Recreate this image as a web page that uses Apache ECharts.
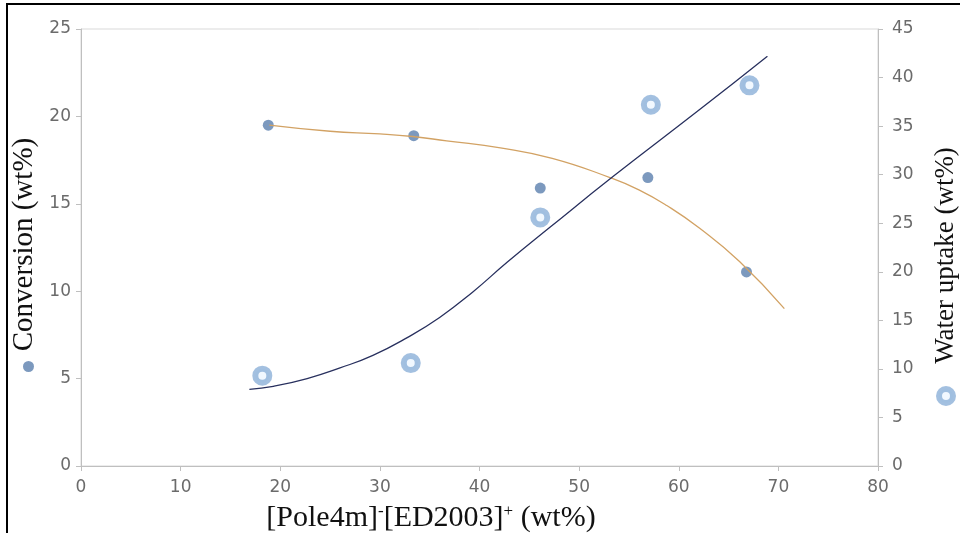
<!DOCTYPE html>
<html lang="en">

<head>
    <meta charset="UTF-8">
    <title>Conversion and water uptake</title>
    <script src="https://cdn.jsdelivr.net/npm/echarts@6/dist/echarts.min.js"></script>
    <style>
        html,
        body {
            margin: 0;
            background: #fff;
            overflow: hidden;
        }

        #mChart {
            position: absolute;
            left: 0;
            top: 0;
            width: 960px;
            height: 533px;
        }

        #frame {
            position: absolute;
            left: 6px;
            top: 3px;
            width: 952px;
            height: 528px;
            border-top: 2px solid #000;
            border-left: 2px solid #000;
            pointer-events: none;
        }
    </style>
</head>

<body>
    <div id="mChart"></div>
    <div id="frame"></div>

    <script type="text/javascript">
        // measured points
        const convX = [18.8, 33.4, 46.1, 56.9, 66.8]
        const convY = [19.5, 18.9, 15.9, 16.5, 11.1]
        const waterX = [18.2, 33.1, 46.1, 57.2, 67.1]
        const waterY = [9.3, 10.6, 25.6, 37.2, 39.2]

        // trend lines
        const convFitX = [18.9, 25.0, 30.0, 33.3, 36.7, 42.1, 47.3, 53.1, 56.0, 58.8, 62.1, 66.1, 70.6]
        const convFitY = [19.5, 19.15, 19.0, 18.85, 18.6, 18.2, 17.6, 16.5, 15.8, 14.9, 13.6, 11.7, 9.0]
        const waterFitX = [16.9, 19.3, 22.7, 26.0, 29.3, 32.7, 36.0, 39.3, 42.8, 47.1, 53.4, 62.1, 68.9]
        const waterFitY = [7.9, 8.2, 9.0, 10.1, 11.4, 13.2, 15.3, 17.9, 21.0, 24.6, 29.8, 36.7, 42.2]

        // tick labels
        const xTicks = [0, 10, 20, 30, 40, 50, 60, 70, 80]
        const convTicks = [0, 5, 10, 15, 20, 25]
        const waterTicks = [0, 5, 10, 15, 20, 25, 30, 35, 40, 45]

        const zip = (xs, ys) => xs.map((x, i) => [x, ys[i]])
        const tickRange = t => ({ min: t[0], max: t[t.length - 1], interval: t[1] - t[0] })

        const axisGray = '#bfbfbf'
        const ringBlue = '#8cb0d8'
        const labelStyle = { fontFamily: 'DejaVu Sans', fontSize: 17, color: '#6b6b6b' }
        const serif = 'Liberation Serif'

        var mChart = echarts.init(document.getElementById('mChart'))

        mChart.setOption({
            animation: false,
            grid: {
                left: 81, right: 82, top: 29, bottom: 67,
                outerBoundsMode: 'none',
                show: true, borderColor: '#d9d9d9', borderWidth: 1
            },
            legend: [{
                data: ['Conversion (wt%)'],
                left: 18, top: 356,
                itemWidth: 11, itemHeight: 11,
                formatter: () => '',
                selectedMode: false
            }, {
                data: ['Water uptake (wt%)'],
                left: 931, top: 381,
                itemWidth: 14, itemHeight: 14,
                itemStyle: { color: '#eef6ff', borderColor: ringBlue, borderWidth: 6 },
                formatter: () => '',
                selectedMode: false
            }],
            xAxis: {
                type: 'value',
                ...tickRange(xTicks),
                name: '[Pole4m]{sup|-}[ED2003]{sup|+} (wt%)',
                nameLocation: 'middle',
                nameGap: 37,
                nameTextStyle: {
                    fontFamily: serif, fontSize: 30, color: '#111',
                    padding: [0, 97, 0, 0],
                    rich: {
                        sup: { fontFamily: serif, fontSize: 17, color: '#111', verticalAlign: 'top' }
                    }
                },
                splitLine: { show: false },
                axisLine: { lineStyle: { color: axisGray } },
                axisTick: { length: 5, lineStyle: { color: axisGray } },
                axisLabel: { ...labelStyle, margin: 13 }
            },
            yAxis: [{
                type: 'value',
                ...tickRange(convTicks),
                position: 'left',
                name: 'Conversion (wt%)',
                nameLocation: 'middle',
                nameRotate: 90,
                nameGap: 33,
                nameTextStyle: { fontFamily: serif, fontSize: 29, color: '#111', padding: [0, 0, 0, 6] },
                splitLine: { show: false },
                axisLine: { show: true, lineStyle: { color: axisGray } },
                axisTick: { show: true, length: 5, lineStyle: { color: axisGray } },
                axisLabel: { ...labelStyle, margin: 10 }
            }, {
                type: 'value',
                ...tickRange(waterTicks),
                position: 'right',
                name: 'Water uptake (wt%)',
                nameLocation: 'middle',
                nameRotate: 90,
                nameGap: 54,
                nameTextStyle: { fontFamily: serif, fontSize: 27, color: '#111', padding: [0, 16, 0, 0] },
                splitLine: { show: false },
                axisLine: { show: true, lineStyle: { color: axisGray } },
                axisTick: { show: true, length: 5, lineStyle: { color: axisGray } },
                axisLabel: { ...labelStyle, margin: 14 }
            }],
            series: [{
                name: 'conv fit',
                type: 'line',
                yAxisIndex: 0,
                data: zip(convFitX, convFitY),
                smooth: true,
                showSymbol: false,
                lineStyle: { color: '#d2a264', width: 1.3 }
            }, {
                name: 'water fit',
                type: 'line',
                yAxisIndex: 1,
                data: zip(waterFitX, waterFitY),
                smooth: true,
                showSymbol: false,
                lineStyle: { color: '#28305e', width: 1.3 }
            }, {
                name: 'Conversion (wt%)',
                type: 'scatter',
                yAxisIndex: 0,
                data: zip(convX, convY),
                symbol: 'circle',
                symbolSize: 11,
                itemStyle: { color: '#5b80ae' }
            }, {
                name: 'Water uptake (wt%)',
                type: 'scatter',
                yAxisIndex: 1,
                data: zip(waterX, waterY),
                symbol: 'circle',
                symbolSize: 14,
                itemStyle: { color: '#eef6ff', borderColor: ringBlue, borderWidth: 6 }
            }]
        })
    </script>
</body>

</html>
